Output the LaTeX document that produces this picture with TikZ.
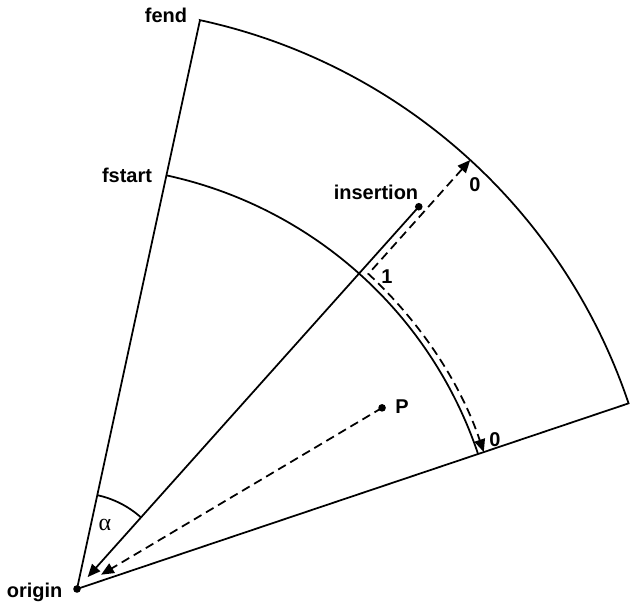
\documentclass[tikz,border=0pt]{standalone}
\usepackage{fontspec}
\setmainfont{Liberation Sans}
\newfontfamily\greekfont{Liberation Serif}
\usetikzlibrary{arrows.meta, calc}

\begin{document}
\begin{tikzpicture}[
		edge/.style={line width=1.25pt},
		dashedge/.style={line width=1.25pt, dash pattern=on 0.22cm off 0.13cm},
		tip/.style={-{Triangle[length=0.32cm, width=0.27cm]}},
		dot/.style={circle, fill=black, inner sep=0pt, minimum size=0.19cm},
		lbl/.style={font=\fontsize{14.2}{17}\selectfont\bfseries, inner sep=0pt}
		]
		\useasboundingbox (-1.925,-0.35) rectangle (13.825,14.725);
		\def\rout{14.55}
		\def\rin{10.58}
		
		\coordinate (fend) at (77.8:\rout);
		\coordinate (fstart) at (77.8:\rin);
		\coordinate (oend) at (18.6:\rout);
		\coordinate (iend) at (18.6:\rin);
		\coordinate (corner) at (47.24:10.73);
		\coordinate (zerotop) at (47.49:\rout);
		
		\node[dot] (orig) at (0,0) {};
		\node[dot] (ins) at (48.2:12.82) {};
		\node[dot] (P) at (30.7:8.87) {};
		
		% sector
		\draw[edge] (fend) -- (orig.center) -- (oend)
		arc[start angle=18.6, end angle=77.8, radius=\rout] -- cycle;
		\draw[edge] (iend) arc[start angle=18.6, end angle=77.8, radius=\rin];
		\draw[edge] (48.2:2.4) arc[start angle=48.2, end angle=77.8, radius=2.4];
		
		\draw[edge, tip, shorten >=0.4cm] (ins.center) -- (orig.center);
		\draw[dashedge, tip, shorten >=0.7cm] (P.center) -- (orig.center);
		\draw[dashedge, {Triangle[length=0.32cm, width=0.27cm]}-{Triangle[length=0.32cm, width=0.27cm]}]
		(zerotop) -- (corner) arc[start angle=47.24, end angle=18.6, radius=10.73];
		
		\node[lbl] (fendlbl) at (2.225,14.35) {fend};
		\node[lbl] (fstartlbl) at (1.25,10.35) {fstart};
		\node[lbl] (originlbl) at (-1.06,-0.08) {origin};
		\node[lbl] (inslbl) at (7.475,9.925) {insertion};
		\node[lbl] (Plbl) at (8.125,4.55) {P};
		\node[lbl] (onelbl) at (7.75,7.8) {1};
		\node[lbl] (zerotoplbl) at (9.95,10.1) {0};
		\node[lbl] (zerobotlbl) at (10.45,3.725) {0};
		\node[font=\fontsize{17}{20}\greekfont, inner sep=0pt] (alphalbl) at (0.7,1.6) {α};
	\end{tikzpicture}
\end{document}
